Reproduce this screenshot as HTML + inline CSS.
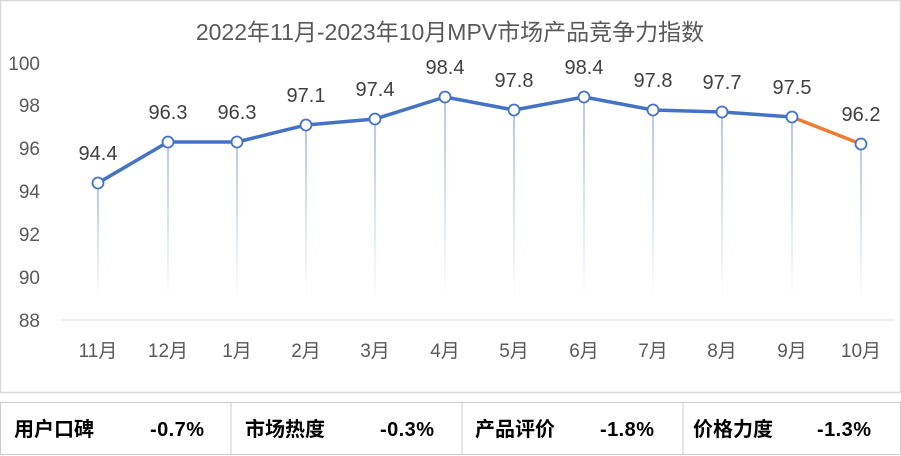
<!DOCTYPE html>
<html><head><meta charset="utf-8"><style>
body{margin:0;background:#fff;width:901px;height:456px;overflow:hidden;font-family:"Liberation Sans","Noto Sans CJK SC",sans-serif}
</style></head><body>
<svg width="901" height="456" xmlns="http://www.w3.org/2000/svg" style="position:absolute;left:0;top:0">
<defs><linearGradient id="g" x1="0" y1="0" x2="0" y2="1"><stop offset="0" stop-color="#b4c7e7"/><stop offset="1" stop-color="#b4c7e7" stop-opacity="0"/></linearGradient></defs>
<rect x="0.5" y="0.5" width="900" height="392" fill="#fff" stroke="#d9d9d9" stroke-width="1.5"/>
<text x="450" y="40" font-size="23" fill="#595959" text-anchor="middle" font-family="Liberation Sans,Noto Sans CJK SC,sans-serif">2022年11月-2023年10月MPV市场产品竞争力指数</text>
<line x1="62" y1="320" x2="895" y2="320" stroke="#d9d9d9"/>
<g font-size="19" fill="#595959" text-anchor="end">
<text x="40" y="70">100</text><text x="40" y="112">98</text><text x="40" y="155">96</text><text x="40" y="198">94</text><text x="40" y="241">92</text><text x="40" y="284">90</text><text x="40" y="327">88</text>
</g>
<g font-size="19" fill="#595959" text-anchor="middle">
<text x="98" y="357">11月</text><text x="168" y="357">12月</text><text x="237" y="357">1月</text><text x="306" y="357">2月</text><text x="375" y="357">3月</text><text x="445" y="357">4月</text><text x="514" y="357">5月</text><text x="584" y="357">6月</text><text x="653" y="357">7月</text><text x="722" y="357">8月</text><text x="792" y="357">9月</text><text x="861" y="357">10月</text>
</g>
<g>
<rect x="97" y="183" width="2" height="117" fill="url(#g)"/>
<rect x="167" y="142" width="2" height="158" fill="url(#g)"/>
<rect x="236" y="142" width="2" height="158" fill="url(#g)"/>
<rect x="305" y="125" width="2" height="175" fill="url(#g)"/>
<rect x="374" y="119" width="2" height="181" fill="url(#g)"/>
<rect x="444" y="97" width="2" height="203" fill="url(#g)"/>
<rect x="513" y="110" width="2" height="190" fill="url(#g)"/>
<rect x="583" y="97" width="2" height="203" fill="url(#g)"/>
<rect x="652" y="110" width="2" height="190" fill="url(#g)"/>
<rect x="721" y="112" width="2" height="188" fill="url(#g)"/>
<rect x="791" y="117" width="2" height="183" fill="url(#g)"/>
<rect x="860" y="144" width="2" height="156" fill="url(#g)"/>
</g>
<polyline points="98,183 168,142 237,142 306,125 375,119 445,97 514,110 584,97 653,110 722,112 792,117" fill="none" stroke="#4472c4" stroke-width="3.5" stroke-linejoin="round"/>
<line x1="792" y1="117" x2="861" y2="144" stroke="#ed7d31" stroke-width="3.5"/>
<g fill="#fff" stroke="#4472c4" stroke-width="1.8">
<circle cx="98" cy="183" r="5.5"/><circle cx="168" cy="142" r="5.5"/><circle cx="237" cy="142" r="5.5"/><circle cx="306" cy="125" r="5.5"/><circle cx="375" cy="119" r="5.5"/><circle cx="445" cy="97" r="5.5"/><circle cx="514" cy="110" r="5.5"/><circle cx="584" cy="97" r="5.5"/><circle cx="653" cy="110" r="5.5"/><circle cx="722" cy="112" r="5.5"/><circle cx="792" cy="117" r="5.5"/><circle cx="861" cy="144" r="5.5"/>
</g>
<g font-size="20" fill="#404040" text-anchor="middle">
<text x="98" y="160">94.4</text><text x="168" y="119">96.3</text><text x="237" y="119">96.3</text><text x="306" y="102">97.1</text><text x="375" y="96">97.4</text><text x="445" y="74">98.4</text><text x="514" y="87">97.8</text><text x="584" y="74">98.4</text><text x="653" y="87">97.8</text><text x="722" y="89">97.7</text><text x="792" y="94">97.5</text><text x="861" y="121">96.2</text>
</g>
<rect x="0.5" y="402.5" width="900" height="52" fill="#fff" stroke="#cccccc"/>
<line x1="231" y1="402" x2="231" y2="455" stroke="#cccccc"/>
<line x1="462" y1="402" x2="462" y2="455" stroke="#cccccc"/>
<line x1="683" y1="402" x2="683" y2="455" stroke="#cccccc"/>
<g font-size="20" fill="#000" font-weight="bold">
<text x="14" y="436">用户口碑</text><text x="150" y="436" textLength="54">-0.7%</text>
<text x="245" y="436">市场热度</text><text x="380" y="436" textLength="54">-0.3%</text>
<text x="475" y="436">产品评价</text><text x="600" y="436" textLength="54">-1.8%</text>
<text x="693" y="436">价格力度</text><text x="817" y="436" textLength="54">-1.3%</text>
</g>
</svg>
</body></html>
